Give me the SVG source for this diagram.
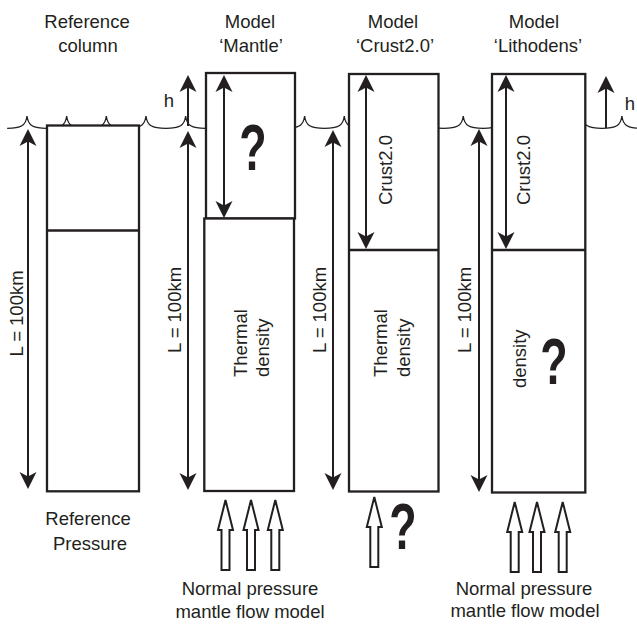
<svg xmlns="http://www.w3.org/2000/svg" xmlns:xlink="http://www.w3.org/1999/xlink" width="637" height="624" viewBox="0 0 637 624">
<style>
.box{fill:#fff;stroke:#231f20;stroke-width:2.3}
.ln{fill:none;stroke:#231f20;stroke-width:2}
.wave{fill:none;stroke:#231f20;stroke-width:1.3}
.hollow{fill:#fff;stroke:#231f20;stroke-width:2;stroke-linejoin:miter}
.t{font-family:"Liberation Sans",Arial,sans-serif;font-size:18.5px;fill:#231f20}
.c{text-anchor:middle}
.q{font-family:"Liberation Sans",Arial,sans-serif;font-size:64px;font-weight:bold;fill:#231f20;text-anchor:middle}
</style>
<defs>
<marker id="ah" viewBox="-10 -10 20 20" refX="0" refY="0" markerWidth="20" markerHeight="20" markerUnits="userSpaceOnUse" orient="auto-start-reverse">
<path d="M8,0 L-9,-8.5 L-4.5,0 L-9,8.5 Z" fill="#231f20"/>
</marker>
<path id="up" class="hollow" d="M0,0 L7.5,30 L4,30 L4,70 L-4,70 L-4,30 L-7.5,30 Z"/>
</defs>

<g id="water-line">
<path class="wave" d="M7.17,128.3 c13.83,0 18.83,-2.8 19.83,-12.3
c1,9.5 6,12.3 19.83,12.3 c13.83,0 18.83,-2.8 19.83,-12.3
c1,9.5 6,12.3 19.83,12.3 c13.83,0 18.83,-2.8 19.83,-12.3
c1,9.5 6,12.3 19.83,12.3 c13.83,0 18.83,-2.8 19.83,-12.3
c1,9.5 6,12.3 19.83,12.3 c13.83,0 18.83,-2.8 19.83,-12.3
c1,9.5 6,12.3 19.83,12.3 c13.83,0 18.83,-2.8 19.83,-12.3
c1,9.5 6,12.3 19.83,12.3 c13.83,0 18.83,-2.8 19.83,-12.3
c1,9.5 6,12.3 19.83,12.3 c13.83,0 18.83,-2.8 19.83,-12.3
c1,9.5 6,12.3 19.83,12.3 c13.83,0 18.83,-2.8 19.83,-12.3
c1,9.5 6,12.3 19.83,12.3 c13.83,0 18.83,-2.8 19.83,-12.3
c1,9.5 6,12.3 19.83,12.3 c13.83,0 18.83,-2.8 19.83,-12.3
c1,9.5 6,12.3 19.83,12.3 c13.83,0 18.83,-2.8 19.83,-12.3
c1,9.5 6,12.3 19.83,12.3 c13.83,0 18.83,-2.8 19.83,-12.3
c1,9.5 6,12.3 19.83,12.3 c13.83,0 18.83,-2.8 19.83,-12.3
c1,9.5 6,12.3 19.83,12.3 c13.83,0 18.83,-2.8 19.83,-12.3
c1,9.5 6,12.3 19.83,12.3 c13.83,0 18.83,-2.8 19.83,-12.3
c1,9.5 6,12.3 19.83,12.3 c13.83,0 18.83,-2.8 19.83,-12.3"/>
</g>

<g id="reference-column">
<text class="t c" x="87" y="27.5">Reference</text>
<text class="t c" x="88" y="51.5">column</text>
<rect class="box" x="47" y="125.5" width="92" height="365.8"/>
<line class="ln" x1="47" y1="230.5" x2="139" y2="230.5" style="stroke-width:2.3"/>
<text class="t c" transform="translate(22.5,313.5) rotate(-90)">L = 100km</text>
<text class="t c" x="88" y="525">Reference</text>
<text class="t c" x="90" y="550">Pressure</text>
</g>

<g id="model-mantle">
<text class="t c" x="250" y="27.5">Model</text>
<text class="t c" x="251" y="51.5">‘Mantle’</text>
<rect class="box" x="206" y="73" width="89" height="145.5"/>
<rect class="box" x="204.3" y="218.5" width="89.7" height="272.5"/>
<text class="q" transform="translate(253,170) scale(0.7,1)">?</text>
<text class="t" transform="translate(246.5,377) rotate(-90)">Thermal</text>
<text class="t" transform="translate(268.5,377) rotate(-90)">density</text>
<text class="t c" x="169" y="107">h</text>
<text class="t c" transform="translate(181,310) rotate(-90)">L = 100km</text>
<text class="t c" x="250" y="595">Normal pressure</text>
<text class="t c" x="250" y="618">mantle flow model</text>
</g>

<g id="model-crust">
<text class="t c" x="393" y="27.5">Model</text>
<text class="t c" x="395" y="51.5">‘Crust2.0’</text>
<rect class="box" x="349" y="74" width="89.5" height="417.5"/>
<line class="ln" x1="349" y1="250" x2="438.5" y2="250" style="stroke-width:2.3"/>
<text class="t" transform="translate(392,205) rotate(-90)">Crust2.0</text>
<text class="t" transform="translate(387,377) rotate(-90)">Thermal</text>
<text class="t" transform="translate(409.5,377) rotate(-90)">density</text>
<text class="t c" transform="translate(326,310) rotate(-90)">L = 100km</text>
<text class="q" transform="translate(403,549) scale(0.7,1)">?</text>
</g>

<g id="model-lithodens">
<text class="t c" x="534" y="27.5">Model</text>
<text class="t c" x="538" y="51.5">‘Lithodens’</text>
<rect class="box" x="492" y="74" width="93.3" height="418.5"/>
<line class="ln" x1="492" y1="250" x2="585.3" y2="250" style="stroke-width:2.3"/>
<text class="t" transform="translate(530,205) rotate(-90)">Crust2.0</text>
<text class="t" transform="translate(525.5,388) rotate(-90)">density</text>
<text class="q" transform="translate(554,384) scale(0.7,1)">?</text>
<text class="t c" x="630" y="110">h</text>
<text class="t c" transform="translate(470.5,310) rotate(-90)">L = 100km</text>
<text class="t c" x="524" y="595">Normal pressure</text>
<text class="t c" x="525" y="617">mantle flow model</text>
</g>

<g id="connectors">
<line class="ln" x1="28" y1="137" x2="28" y2="481" marker-start="url(#ah)" marker-end="url(#ah)"/>
<line class="ln" x1="188" y1="126" x2="188" y2="83" marker-end="url(#ah)"/>
<line class="ln" x1="188" y1="139" x2="188" y2="482" marker-start="url(#ah)" marker-end="url(#ah)"/>
<line class="ln" x1="224" y1="83" x2="224" y2="210" marker-start="url(#ah)" marker-end="url(#ah)"/>
<line class="ln" x1="333" y1="138" x2="333" y2="482" marker-start="url(#ah)" marker-end="url(#ah)"/>
<line class="ln" x1="366" y1="83" x2="366" y2="241" marker-start="url(#ah)" marker-end="url(#ah)"/>
<line class="ln" x1="479" y1="137" x2="479" y2="484" marker-start="url(#ah)" marker-end="url(#ah)"/>
<line class="ln" x1="506" y1="83" x2="506" y2="241" marker-start="url(#ah)" marker-end="url(#ah)"/>
<line class="ln" x1="606" y1="128" x2="606" y2="84" marker-end="url(#ah)"/>
<use xlink:href="#up" transform="translate(225.5,500)"/>
<use xlink:href="#up" transform="translate(251,500)"/>
<use xlink:href="#up" transform="translate(275.3,500)"/>
<use xlink:href="#up" transform="translate(374.3,497)"/>
<use xlink:href="#up" transform="translate(514.7,502)"/>
<use xlink:href="#up" transform="translate(537,502)"/>
<use xlink:href="#up" transform="translate(562.7,502)"/>
</g>
</svg>
